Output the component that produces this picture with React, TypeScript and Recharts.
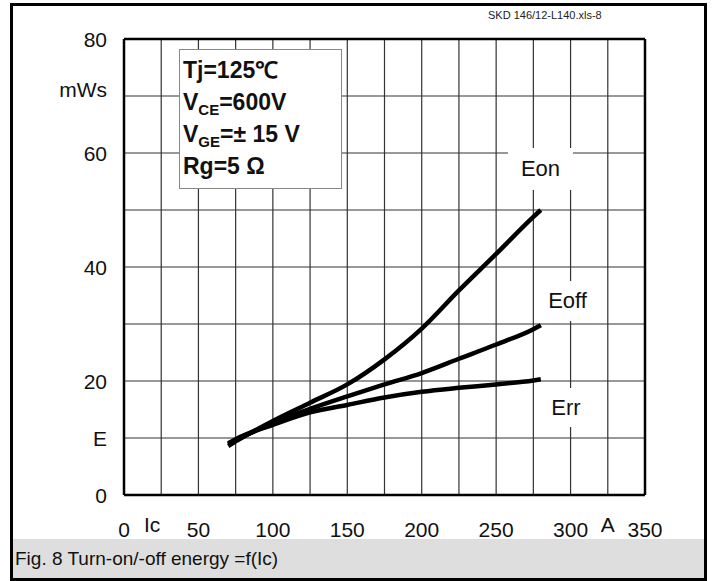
import { LineChart, Line, XAxis, YAxis, CartesianGrid, ReferenceLine } from "recharts";

// collector current Ic (A)
const currents = [70, 75, 100, 125, 150, 175, 200, 225, 250, 275, 280];
// switching energies (mWs)
const eon = [8.6, 9.4, 13.0, 16.2, 19.4, 23.8, 29.2, 35.9, 42.3, 48.8, 50.0];
const eoff = [8.9, 9.6, 12.6, 15.1, 17.3, 19.4, 21.4, 23.9, 26.4, 29.1, 29.8];
const err = [9.1, 9.8, 12.3, 14.5, 15.8, 17.1, 18.1, 18.8, 19.4, 20.1, 20.3];

const xTicks = [0, 25, 50, 75, 100, 125, 150, 175, 200, 225, 250, 275, 300, 325, 350];
const xTickLabels = ["0", "Ic", "50", "", "100", "", "150", "", "200", "", "250", "", "300", "A", "350"];
const yTicks = [0, 10, 20, 30, 40, 50, 60, 70, 80];
const yTickLabels = ["0", "E", "20", "", "40", "", "60", "mWs", "80"];

const data = currents.map((ic, i) => ({ ic, eon: eon[i], eoff: eoff[i], err: err[i] }));

const font = "'Liberation Sans', Arial, sans-serif";

const XTick = ({ x, y, payload }: any) => {
  const label = xTickLabels[xTicks.indexOf(payload.value)];
  if (!label) return null;
  const raised = label === "Ic" || label === "A";
  const shift = label === "Ic" ? -9 : 0;
  return (
    <text x={x + shift} y={y + (raised ? 37 : 42)} textAnchor="middle" fontSize={21} fontFamily={font} fill="#111">
      {label}
    </text>
  );
};

const YTick = ({ x, y, payload }: any) => {
  const label = yTickLabels[yTicks.indexOf(payload.value)];
  if (!label) return null;
  return (
    <text x={x} y={y + (label === "mWs" ? 1 : 8)} textAnchor="end" fontSize={21} fontFamily={font} fill="#111">
      {label}
    </text>
  );
};

const whiteBox = (left: number, top: number, width: number, height: number, text: string) => (
  <div
    style={{
      position: "absolute",
      left,
      top,
      width,
      height,
      background: "#fff",
      fontFamily: font,
      fontSize: 22,
      color: "#111",
      display: "flex",
      alignItems: "center",
      justifyContent: "center",
    }}
  >
    {text}
  </div>
);

const sub = (t: string) => (
  <span style={{ fontSize: 15, position: "relative", top: 5, lineHeight: 0 }}>{t}</span>
);

export default function App() {
  return (
    <div style={{ position: "absolute", left: 0, top: 0, width: 712, height: 581, background: "#fff", overflow: "hidden" }}>
      <div
        style={{
          position: "absolute",
          left: 10,
          top: 3,
          width: 697,
          height: 578,
          border: "3px solid #000",
          boxSizing: "border-box",
        }}
      />
      <div style={{ position: "absolute", left: 0, top: 0 }}>
        <LineChart width={712} height={581} data={data} margin={{ top: 39, right: 67, bottom: 56, left: 64 }}>
          <CartesianGrid stroke="#333" strokeWidth={1.2} />
          <XAxis
            dataKey="ic"
            type="number"
            domain={[0, 350]}
            ticks={xTicks}
            interval={0}
            height={30}
            tickLine={false}
            tickSize={0}
            tickMargin={0}
            axisLine={{ stroke: "#000", strokeWidth: 2.5 }}
            tick={<XTick />}
          />
          <YAxis
            type="number"
            domain={[0, 80]}
            ticks={yTicks}
            interval={0}
            width={60}
            tickLine={false}
            tickSize={0}
            tickMargin={17}
            axisLine={{ stroke: "#000", strokeWidth: 2.5 }}
            tick={<YTick />}
          />
          <ReferenceLine y={80} stroke="#000" strokeWidth={2.5} />
          <ReferenceLine x={350} stroke="#000" strokeWidth={2.5} />
          <Line type="monotone" dataKey="eon" stroke="#000" strokeWidth={4.5} dot={false} isAnimationActive={false} />
          <Line type="monotone" dataKey="eoff" stroke="#000" strokeWidth={4.5} dot={false} isAnimationActive={false} />
          <Line type="monotone" dataKey="err" stroke="#000" strokeWidth={4.5} dot={false} isAnimationActive={false} />
        </LineChart>
      </div>

      {whiteBox(508, 148, 65, 42, "Eon")}
      {whiteBox(540, 281, 55, 40, "Eoff")}
      {whiteBox(540, 388, 52, 39, "Err")}

      <div
        style={{
          position: "absolute",
          left: 179,
          top: 49,
          width: 163,
          height: 140,
          background: "#fff",
          border: "1.5px solid #888",
          boxSizing: "border-box",
          padding: "4px 0 0 3px",
          fontFamily: font,
          fontSize: 23,
          fontWeight: "bold",
          color: "#111",
          lineHeight: "32px",
          whiteSpace: "nowrap",
        }}
      >
        <div style={{ height: 32 }}>Tj=125℃</div>
        <div style={{ height: 32 }}>V{sub("CE")}=600V</div>
        <div style={{ height: 32 }}>V{sub("GE")}=± 15 V</div>
        <div style={{ height: 32 }}>Rg=5 Ω</div>
      </div>

      <div style={{ position: "absolute", left: 488, top: 9, fontFamily: font, fontSize: 11, color: "#222", whiteSpace: "nowrap" }}>
        SKD 146/12-L140.xls-8
      </div>

      <div
        style={{
          position: "absolute",
          left: 13,
          top: 539,
          width: 691,
          height: 39,
          background: "#dedede",
          fontFamily: font,
          fontSize: 19,
          color: "#111",
          display: "flex",
          alignItems: "center",
          paddingLeft: 2,
          boxSizing: "border-box",
        }}
      >
        Fig. 8 Turn-on/-off energy =f(Ic)
      </div>
    </div>
  );
}
